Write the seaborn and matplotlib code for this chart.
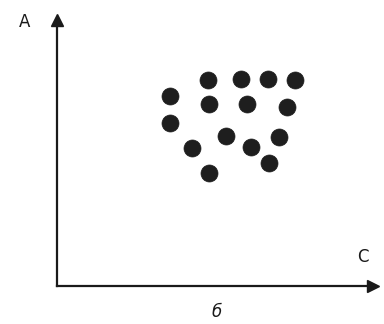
import matplotlib
matplotlib.use("Agg")
import matplotlib.pyplot as plt
import seaborn as sns
import pandas as pd

c_vals = [151, 184, 211, 238, 113, 152, 190, 230, 113, 169, 222, 135, 194, 212, 152]
a_vals = [206, 207, 207, 206, 190, 182, 182, 179, 163, 150, 149, 138, 139, 123, 113]
x_label = "C"
y_label = "A"
caption = "б"

sns.set_style("white")
plt.rcParams['font.family'] = ['DejaVu Sans']

df = pd.DataFrame({"C": c_vals, "A": a_vals})

fig = plt.figure(figsize=(3.84, 3.24), dpi=100)
ax = fig.add_axes([57/384, 38/324, 316/384, 266/324])
sns.scatterplot(data=df, x="C", y="A", ax=ax, s=150, color="#1e1e1e",
                edgecolor="#1e1e1e", linewidth=0.5, legend=False)
ax.set_xlim(0, 316)
ax.set_ylim(0, 266)
ax.set_xticks([])
ax.set_yticks([])
ax.set_xlabel("")
ax.set_ylabel("")
for s in ["top", "right"]:
    ax.spines[s].set_visible(False)
for s in ["left", "bottom"]:
    ax.spines[s].set_linewidth(1.6)
    ax.spines[s].set_color("#1a1a1a")
ax.plot(1, 0, marker=">", markersize=8, color="#1a1a1a", transform=ax.transAxes, clip_on=False)
ax.plot(0, 1, marker="^", markersize=8, color="#1a1a1a", transform=ax.transAxes, clip_on=False)

fig.text(25/384, 1 - 22/324, y_label, ha="center", va="center", fontsize=12, color="#1a1a1a")
fig.text(363/384, 1 - 257/324, x_label, ha="center", va="center", fontsize=12, color="#1a1a1a")
fig.text(217/384, 1 - 312/324, caption, ha="center", va="center", fontsize=12, style="italic", color="#1a1a1a")

fig.savefig("out.png", dpi=100, facecolor="white")
